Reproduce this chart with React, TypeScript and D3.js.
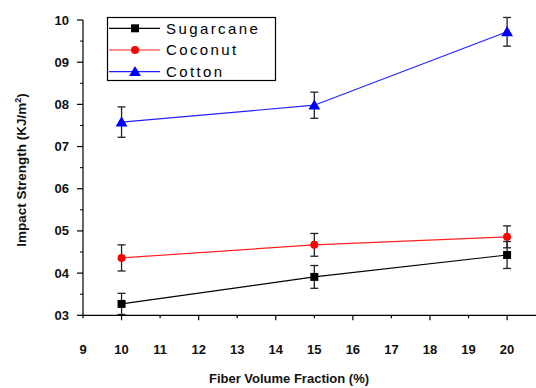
import React from "react";
import * as d3 from "d3";

const fractions = [10, 15, 20];
const sugarcane = [3.27, 3.91, 4.43];
const sugarcaneErr = [0.25, 0.27, 0.32];
const coconut = [4.36, 4.67, 4.86];
const coconutErr = [0.31, 0.27, 0.26];
const cotton = [7.58, 7.98, 9.72];
const cottonErr = [0.36, 0.31, 0.34];
const yTickLabels = ["03", "04", "05", "06", "07", "08", "09", "10"];
const xTicks = [9, 10, 11, 12, 13, 14, 15, 16, 17, 18, 19, 20];

const series = [
  { name: "Sugarcane", values: sugarcane, err: sugarcaneErr, color: "#000000", marker: "square" },
  { name: "Coconut", values: coconut, err: coconutErr, color: "#ff2020", marker: "circle" },
  { name: "Cotton", values: cotton, err: cottonErr, color: "#2020ff", marker: "triangle" },
];

const FONT = "'Liberation Sans', Arial, sans-serif";

function Marker({ type, x, y }: { type: string; x: number; y: number }) {
  const fill = type === "square" ? "#000" : type === "circle" ? "#ff0000" : "#0000ff";
  if (type === "square") return <rect x={x - 4} y={y - 4} width={8} height={8} fill={fill} />;
  if (type === "circle") return <circle cx={x} cy={y} r={4} fill={fill} />;
  const sym = d3.symbol().type(d3.symbolTriangle).size(60)();
  return <path d={sym as string} transform={`translate(${x},${y + 1})`} fill={fill} />;
}

export default function App() {
  const W = 536, H = 388;
  const x = d3.scaleLinear().domain([9, 20.75]).range([83, 536]);
  const y = d3.scaleLinear().domain([3, 10]).range([315.3, 20]);
  const yMajors = d3.range(3, 11);
  const yMinors = d3.range(3.5, 10, 1);
  return (
    <svg width={W} height={H} style={{ position: "absolute", left: 0, top: 0, background: "#fff" }}>
      {/* axes */}
      <line x1={x(9)} x2={x(9)} y1={y(10)} y2={y(3)} stroke="#000" strokeWidth={1.2} />
      <line x1={x(9)} x2={W} y1={y(3)} y2={y(3)} stroke="#000" strokeWidth={1.2} />
      {yMajors.map((v, i) => (
        <g key={"ym" + v}>
          <line x1={x(9) - 6} x2={x(9)} y1={y(v)} y2={y(v)} stroke="#000" strokeWidth={1.2} />
          <text x={69} y={y(v)} dy="0.35em" textAnchor="end" fontFamily={FONT} fontWeight="bold" fontSize={13} fill="#111">
            {yTickLabels[i]}
          </text>
        </g>
      ))}
      {yMinors.map((v) => (
        <line key={"yn" + v} x1={x(9) - 3} x2={x(9)} y1={y(v)} y2={y(v)} stroke="#000" strokeWidth={1} />
      ))}
      {xTicks.map((v) => (
        <g key={"xt" + v}>
          <line x1={x(v)} x2={x(v)} y1={y(3)} y2={y(3) + (v % 2 === 0 ? 5 : 3)} stroke="#000" strokeWidth={1.2} />
          <text x={x(v)} y={349} dy="0.35em" textAnchor="middle" fontFamily={FONT} fontWeight="bold" fontSize={13} fill="#111">
            {v}
          </text>
        </g>
      ))}
      <text x={289} y={378.5} dy="0.35em" textAnchor="middle" fontFamily={FONT} fontWeight="bold" fontSize={13} fill="#111">
        Fiber Volume Fraction (%)
      </text>
      <text transform="translate(21,170) rotate(-90)" dy="0.35em" textAnchor="middle" fontFamily={FONT} fontWeight="bold" fontSize={13.5} fill="#111">
        Impact Strength (KJ/m<tspan dy="-5" fontSize={9}>2</tspan><tspan dy="5">)</tspan>
      </text>
      {/* series */}
      {series.map((s) => {
        const line = d3.line<number>().x((_, i) => x(fractions[i])).y((v) => y(v));
        return (
          <g key={s.name}>
            <path d={line(s.values) as string} fill="none" stroke={s.color} strokeWidth={1.2} />
            {s.values.map((v, i) => {
              const cx = x(fractions[i]);
              const top = y(v + s.err[i]);
              const bot = y(v - s.err[i]);
              return (
                <g key={i}>
                  <line x1={cx} x2={cx} y1={top} y2={bot} stroke="#222" strokeWidth={1.3} />
                  <line x1={cx - 4} x2={cx + 4} y1={top} y2={top} stroke="#222" strokeWidth={1.3} />
                  <line x1={cx - 4} x2={cx + 4} y1={bot} y2={bot} stroke="#222" strokeWidth={1.3} />
                  <Marker type={s.marker} x={cx} y={y(v)} />
                </g>
              );
            })}
          </g>
        );
      })}
      {/* legend */}
      <rect x={107.5} y={17.5} width={168} height={63} fill="#fff" stroke="#000" strokeWidth={1.2} />
      {series.map((s, i) => {
        const ly = 28.3 + i * 21.7;
        return (
          <g key={"lg" + s.name}>
            <line x1={109} x2={160} y1={ly} y2={ly} stroke={s.color} strokeWidth={1.2} />
            <Marker type={s.marker} x={135} y={ly} />
            <text x={166} y={ly} dy="0.35em" fontFamily={FONT} fontSize={15} letterSpacing={2.4} fill="#000">
              {s.name}
            </text>
          </g>
        );
      })}
    </svg>
  );
}
